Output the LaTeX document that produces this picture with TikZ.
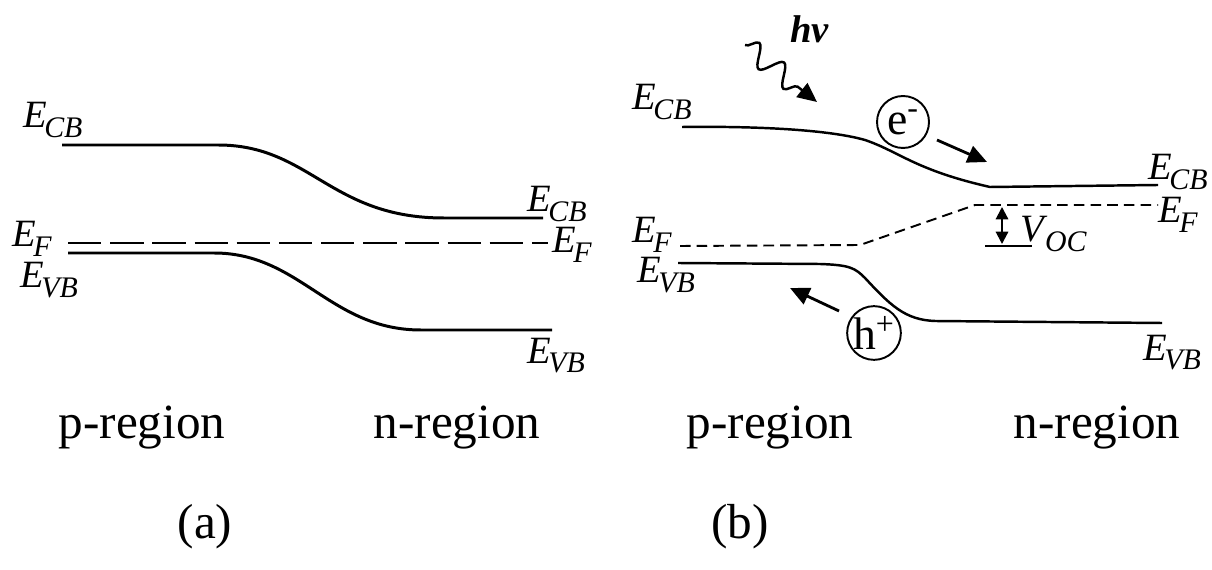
\documentclass[tikz,border=0pt]{standalone}
\usepackage{fontspec}
\setmainfont{Liberation Serif}
\usetikzlibrary{arrows.meta,decorations.pathmorphing}
\newcommand\lev[2]{\textit{#1}\kern-1.5pt\raisebox{-5.5pt}{\fontsize{17}{17}\selectfont\textit{#2}}}
\tikzset{
  band/.style={line width=1.7pt},
  bandb/.style={line width=1.4pt},
  fermi/.style={line width=1.2pt,dash pattern=on 19pt off 5pt},
  fermib/.style={line width=1.1pt,dash pattern=on 6pt off 3.5pt},
  lab/.style={inner sep=0pt,anchor=base west,font=\fontsize{22}{22}\selectfont},
  region/.style={inner sep=0pt,font=\fontsize{28}{30}\selectfont},
  carrier/.style={circle,draw,line width=1.1pt,minimum size=1.04cm,inner sep=0pt,font=\fontsize{26}{26}\selectfont},
  move/.style={line width=1.6pt,-{Triangle[length=11pt,width=10pt]}}
}
\begin{document}
\begin{tikzpicture}[x=0.02cm,y=-0.02cm]
\useasboundingbox (0,0) rectangle (1212,570);
% (a) equilibrium
\draw[band] (62,145) -- (218,145) .. controls (310,145) and (330,218) .. (444,218) -- (543,218);
\draw[fermi] (68,243) -- (548,243);
\draw[band] (68,253) -- (214,253) .. controls (300,253) and (330,330) .. (421,330) -- (552,330);
\node[lab] (acbl) at (23,128) {\lev{E}{CB}};
\node[lab] (acbr) at (527,212) {\lev{E}{CB}};
\node[lab] (afl) at (12,247) {\lev{E}{F}};
\node[lab] (afr) at (552,253) {\lev{E}{F}};
\node[lab] (avbl) at (20,288) {\lev{E}{VB}};
\node[lab] (avbr) at (527,363) {\lev{E}{VB}};
\node[region] (ap) at (142,428) {p-region};
\node[region] (an) at (457,428) {n-region};
\node[region] (acap) at (205,527) {(a)};
% (b) under illumination
\draw[bandb] (682,127) .. controls (760,126) and (830,130) .. (865,140) .. controls (900,152) and (915,170) .. (990,187) -- (1158,185);
\draw[fermib] (680,246) -- (860,245) -- (975,205) -- (1158,205);
\draw[bandb] (678,263) -- (820,264) .. controls (850,265) and (855,268) .. (865,278) .. controls (890,305) and (905,320) .. (935,321) -- (1162,323);
\node[lab] (bcbl) at (632,110) {\lev{E}{CB}};
\node[lab] (bcbr) at (1148,180) {\lev{E}{CB}};
\node[lab] (bfl) at (632,243) {\lev{E}{F}};
\node[lab] (bfr) at (1158,223) {\lev{E}{F}};
\node[lab] (bvbl) at (637,283) {\lev{E}{VB}};
\node[lab] (bvbr) at (1143,360) {\lev{E}{VB}};
\node[lab] (hv) at (790,43) {\textbf{\textit{hv}}};
\coordinate (photon0) at (745,45);
\coordinate (photon1) at (817,102);
\draw[line width=1.4pt,decorate,decoration={snake,amplitude=6pt,segment length=18pt,post length=9pt},-{Triangle[length=11pt,width=10pt]}] (photon0) -- (photon1);
\node[carrier] (elec) at (903,122) {e\textsuperscript{-}};
\node[carrier] (hole) at (874,333) {h\textsuperscript{+}};
\coordinate (e0) at (937,140);
\coordinate (e1) at (987,162);
\coordinate (h0) at (839,311);
\coordinate (h1) at (790,288);
\draw[move] (e0) -- (e1);
\draw[move] (h0) -- (h1);
\coordinate (voctop) at (1002,207);
\coordinate (vocbot) at (1002,244);
\draw[line width=1.2pt,{Triangle[length=7pt,width=7pt]}-{Triangle[length=7pt,width=7pt]}] (voctop) -- (vocbot);
\coordinate (vocl) at (985,246);
\coordinate (vocr) at (1032,246);
\draw[bandb] (vocl) -- (vocr);
\node[lab] (voc) at (1020,242) {\lev{V}{OC}};
\node[region] (bp) at (770,428) {p-region};
\node[region] (bn) at (1097,428) {n-region};
\node[region] (bcap) at (740,527) {(b)};
\end{tikzpicture}
\end{document}
